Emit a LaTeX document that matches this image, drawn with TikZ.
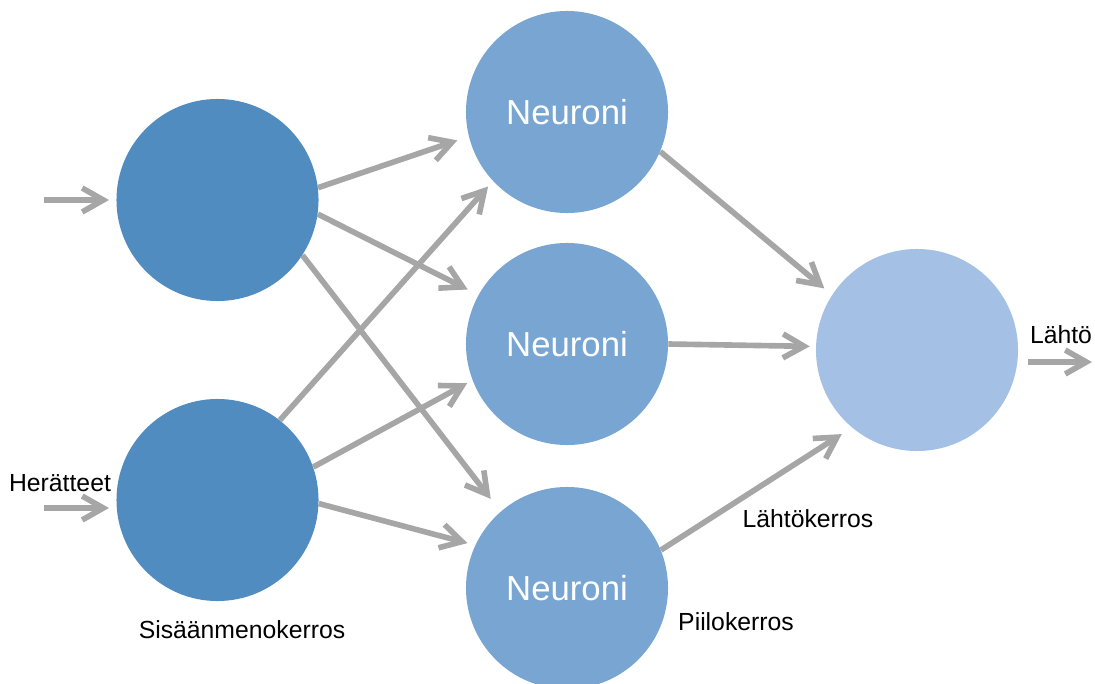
\documentclass[tikz,border=0pt]{standalone}
\usepackage{fontspec}
\setmainfont{Liberation Sans}
\usetikzlibrary{arrows.meta}

\definecolor{inputblue}{RGB}{80,140,192}
\definecolor{hiddenblue}{RGB}{120,165,210}
\definecolor{outputblue}{RGB}{164,192,228}
\definecolor{arrowgray}{RGB}{166,166,166}

\begin{document}
\begin{tikzpicture}[
                x=0.025cm, y=-0.025cm,
                neuron/.style={
                    circle,
                    draw=none,
                    minimum size=5.05cm,
                    inner sep=0pt,
                    text=white,
                    font=\fontsize{24.7}{30}\selectfont
                },
                inputneuron/.style={
                    neuron,
                    fill=inputblue
                },
                hiddenneuron/.style={
                    neuron,
                    fill=hiddenblue
                },
                outputneuron/.style={
                    neuron,
                    fill=outputblue
                },
                layerlabel/.style={
                    anchor=base,
                    inner sep=0pt,
                    font=\fontsize{17.6}{21}\selectfont
                },
                arrow/.style={
                    -{Straight Barb[length=15pt,width=17pt]},
                    line width=4pt,
                    draw=arrowgray
                }
            ]
                \useasboundingbox (0,0) rectangle (1095,683);

                \node[inputneuron] (in1) at (217.5,200) {};
                \node[inputneuron] (in2) at (217.5,500) {};
                \node[hiddenneuron] (hid1) at (567,112) {Neuroni};
                \node[hiddenneuron] (hid2) at (567,344) {Neuroni};
                \node[hiddenneuron] (hid3) at (567,588) {Neuroni};
                \node[outputneuron] (out) at (917,350) {};

                \coordinate (x1) at (44,200);
                \coordinate (x2) at (44,508);
                \coordinate (y1) at (1092,362);

                \node[layerlabel] (lblin) at (60,491) {Herätteet};
                \node[layerlabel] (lblinput) at (242,638) {Sisäänmenokerros};
                \node[layerlabel] (lblhidden) at (736,630) {Piilokerros};
                \node[layerlabel] (lbloutput) at (808,527) {Lähtökerros};
                \node[layerlabel] (lblout) at (1061,343) {Lähtö};

                \draw[arrow, shorten >=0.18cm] (x1) -- (in1.west);
                \draw[arrow, shorten >=0.18cm] (x2) -- (x2 -| in2.west);
                \draw[arrow, shorten <=0.25cm] (y1 -| out.east) -- (y1);

                \draw[arrow, shorten >=0.3cm] (in1.7) -- (hid1.194);
                \draw[arrow, shorten >=0.3cm] (in1.-8.5) -- (hid2.151.6);
                \draw[arrow, shorten >=0.4cm] (in1.-33) -- (hid3.131.6);
                \draw[arrow, shorten >=0.18cm] (in2.52) -- (hid1.223);
                \draw[arrow, shorten >=0.15cm] (in2.19.6) -- (hid2.201.5);
                \draw[arrow, shorten >=0.2cm] (in2.-2.8) -- (hid3.155.6);

                \draw[arrow, shorten >=0.25cm] (hid1.-23.2) -- (out.147.2);
                \draw[arrow, shorten >=0.15cm] (hid2.0) -- (out.178.9);
                \draw[arrow, shorten >=0.3cm] (hid3.22.8) -- (out.230.7);
        \end{tikzpicture}
\end{document}
